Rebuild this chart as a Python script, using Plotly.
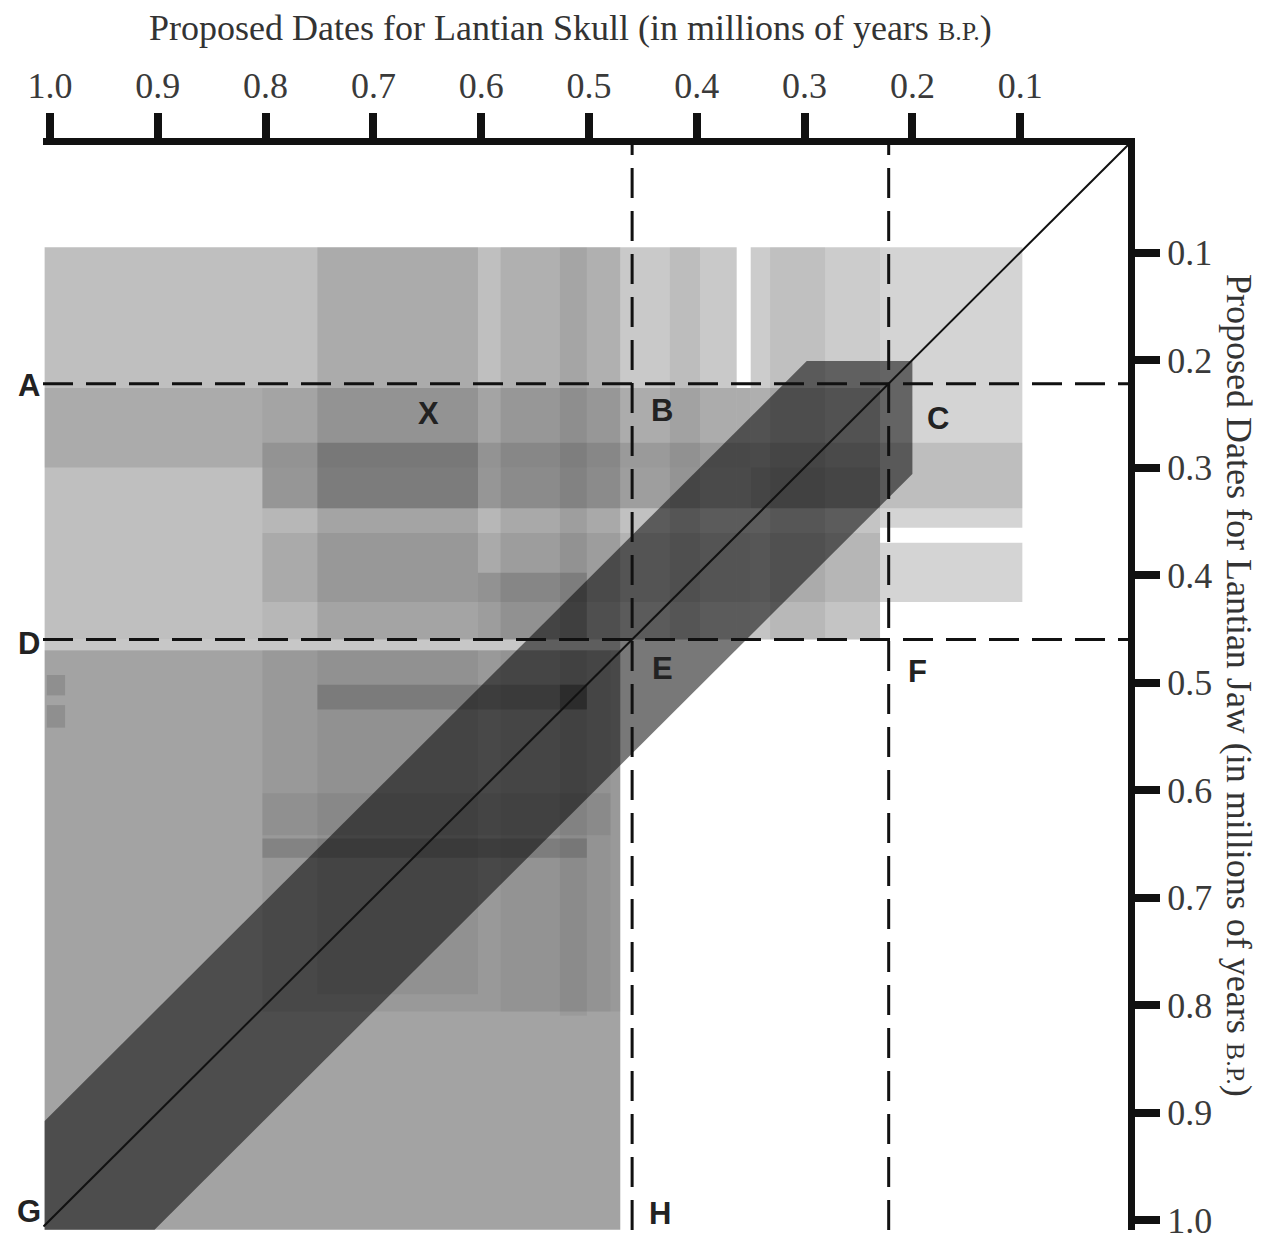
import plotly.graph_objects as go

# proposed skull / jaw dates, millions of years B.P.
skull_ticks = [1.0, 0.9, 0.8, 0.7, 0.6, 0.5, 0.4, 0.3, 0.2, 0.1]
jaw_ticks = [0.1, 0.2, 0.3, 0.4, 0.5, 0.6, 0.7, 0.8, 0.9, 1.0]
tick_text = ["%.1f" % v for v in skull_ticks]

# overlapping date-range blocks: skull range x jaw range, with shading strength
rect_skull_old = [1.005, 0.471, 0.363, 0.350, 0.230, 0.230, 1.005, 1.005,
                  0.752, 0.582, 0.527, 0.425, 0.332,
                  1.005, 0.803, 0.803, 0.803, 0.803, 0.603, 0.752, 0.350,
                  0.803, 0.752, 0.752, 0.527, 0.803, 0.803, 1.003, 1.003, 0.527, 0.582]
rect_skull_young = [0.471, 0.363, 0.350, 0.230, 0.098, 0.098, 0.471, 0.471,
                    0.603, 0.471, 0.502, 0.397, 0.281,
                    0.230, 0.098, 0.230, 0.230, 0.230, 0.502, 0.603, 0.230,
                    0.471, 0.603, 0.502, 0.502, 0.480, 0.502, 0.986, 0.986, 0.502, 0.480]
rect_jaw_young = [0.095, 0.095, 0.226, 0.095, 0.095, 0.370, 0.460, 0.470,
                  0.095, 0.095, 0.095, 0.095, 0.095,
                  0.226, 0.277, 0.300, 0.226, 0.361, 0.398, 0.277, 0.300,
                  0.470, 0.470, 0.502, 0.502, 0.603, 0.645, 0.493, 0.521, 0.470, 0.470]
rect_jaw_old = [0.460, 0.460, 0.460, 0.460, 0.356, 0.425, 0.470, 1.009,
                0.460, 0.460, 0.460, 0.460, 0.460,
                0.300, 0.338, 0.338, 0.460, 0.425, 0.460, 0.338, 0.338,
                0.806, 0.790, 0.525, 0.525, 0.642, 0.663, 0.512, 0.542, 0.810, 0.806]
rect_shade = [0.25, 0.21, 0.21, 0.20, 0.17, 0.17, 0.22, 0.36,
              0.10, 0.08, 0.06, 0.06, 0.06,
              0.10, 0.10, 0.08, 0.04, 0.07, 0.14, 0.08, 0.08,
              0.06, 0.05, 0.15, 0.20, 0.06, 0.14, 0.12, 0.12, 0.05, 0.04]

# agreement band around the line skull = jaw
band_skull = [0.298, 0.200, 0.200, 0.903, 1.005, 1.005]
band_jaw = [0.201, 0.201, 0.306, 1.009, 1.009, 0.908]

# dividing dates
cut_early = 0.222
cut_late = 0.46

# region labels
label_text = ["X", "B", "C", "E", "F", "H"]
label_skull = [0.649, 0.432, 0.176, 0.432, 0.195, 0.434]
label_jaw = [0.250, 0.247, 0.254, 0.487, 0.490, 0.994]
edge_text = ["A", "D", "G"]
edge_jaw = [0.224, 0.464, 0.992]

fig = go.Figure()
fig.add_trace(go.Scatter(x=[0, 1], y=[0, 1], mode="markers", marker=dict(opacity=0),
                         hoverinfo="skip", showlegend=False))

for x0, x1, y0, y1, a in zip(rect_skull_old, rect_skull_young, rect_jaw_young, rect_jaw_old, rect_shade):
    fig.add_shape(type="rect", xref="x", yref="y", x0=x0, x1=x1, y0=y0, y1=y1,
                  fillcolor="rgba(0,0,0,%.2f)" % a, line=dict(width=0))

band_path = "M " + " L ".join("%g,%g" % (x, y) for x, y in zip(band_skull, band_jaw)) + " Z"
fig.add_shape(type="path", xref="x", yref="y", path=band_path,
              fillcolor="rgba(0,0,0,0.53)", line=dict(width=0))

fig.add_shape(type="line", xref="x", yref="y", x0=0, y0=0, x1=1.006, y1=1.006,
              line=dict(color="#111", width=2))

dash = dict(color="#111", width=3, dash="30px,13px")
for c in [cut_early, cut_late]:
    fig.add_shape(type="line", xref="x", yref="paper", x0=c, x1=c, y0=0, y1=1, line=dash)
    fig.add_shape(type="line", xref="paper", yref="y", x0=0, x1=1, y0=c, y1=c, line=dash)

lab_font = dict(family="Liberation Sans", size=31, color="#222")
for t, x, y in zip(label_text, label_skull, label_jaw):
    fig.add_annotation(x=x, y=y, xref="x", yref="y", text="<b>%s</b>" % t,
                       showarrow=False, font=lab_font)
for t, y in zip(edge_text, edge_jaw):
    fig.add_annotation(x=-0.013, y=y, xref="paper", yref="y", text="<b>%s</b>" % t,
                       xanchor="center", yanchor="middle", showarrow=False, font=lab_font)

serif = "Liberation Serif"
fig.add_annotation(x=0.4866, y=1.108, xref="paper", yref="paper", showarrow=False,
                   xanchor="center", yanchor="middle",
                   text="Proposed Dates for Lantian Skull (in millions of years "
                        "<span style='font-size:26px'>B.P.</span>)",
                   font=dict(family=serif, size=36, color="#333"))
fig.add_annotation(x=1.103, y=0.503, xref="paper", yref="y", showarrow=False, textangle=90,
                   xanchor="center", yanchor="middle",
                   text="Proposed Dates for Lantian Jaw (in millions of years "
                        "<span style='font-size:26px'>B.P.</span>)",
                   font=dict(family=serif, size=36, color="#333"))

axis_style = dict(showline=True, linewidth=7, linecolor="#111", ticks="outside", ticklen=25,
                  tickwidth=8, tickcolor="#111", showgrid=False, zeroline=False, automargin=False,
                  ticklabeloverflow="allow",
                  tickfont=dict(family=serif, size=36, color="#3a3a3a"), fixedrange=True)
fig.update_xaxes(range=[1.0065, 0], side="top", tickvals=skull_ticks, ticktext=tick_text,
                 ticklabelstandoff=1, **axis_style)
fig.update_yaxes(range=[1.0093, 0], side="right", tickvals=jaw_ticks,
                 ticktext=["%.1f" % v for v in jaw_ticks], ticklabelstandoff=0, **axis_style)

# page body keeps an 8px margin, so the figure is sized to end at the window edge
fig.update_layout(width=1262, height=1233, margin=dict(l=35, r=142, t=137, b=11, autoexpand=False),
                  plot_bgcolor="white", paper_bgcolor="white", showlegend=False)

fig.write_html("out.html")
